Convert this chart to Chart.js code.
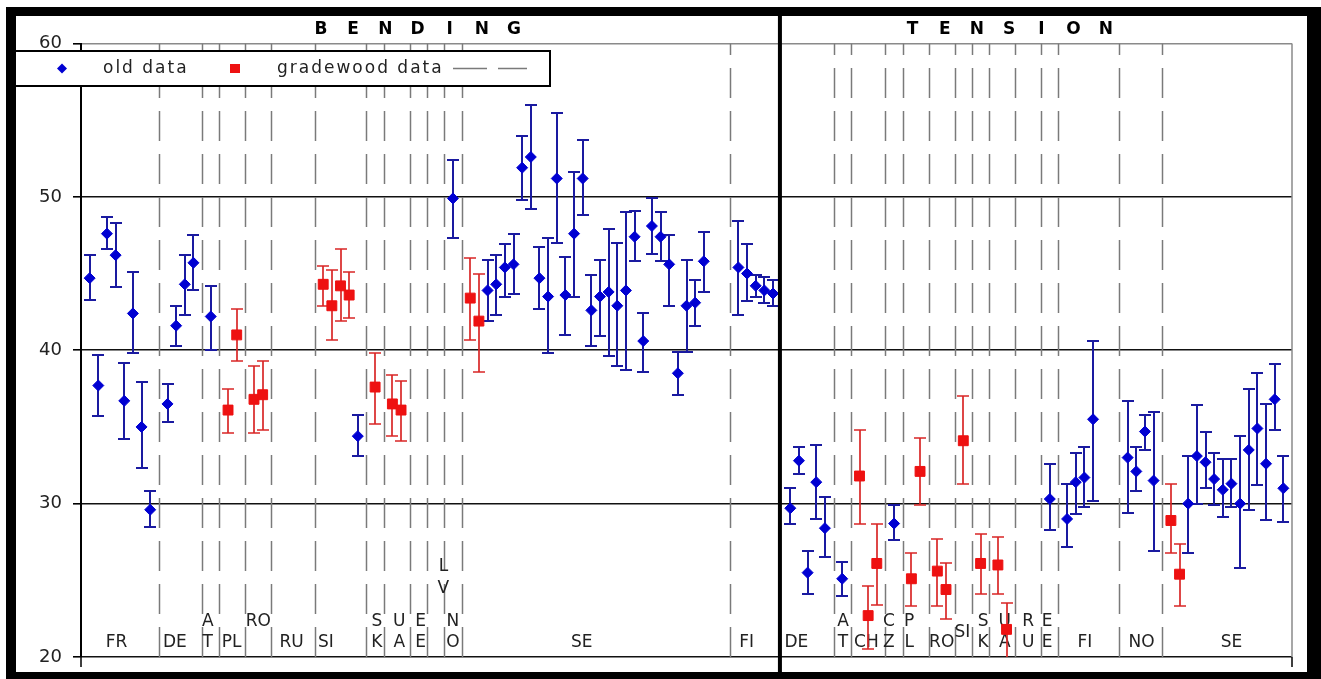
<!DOCTYPE html>
<html>
<head>
<meta charset="utf-8">
<title>Bending / Tension</title>
<script src="https://cdn.jsdelivr.net/npm/chart.js@4"></script>
<style>
    html, body { margin: 0; padding: 0; background: #fff; }
    #chart { display: block; }
</style>
</head>
<body>
<canvas id="chart" width="1321" height="679"></canvas>
<script>
// Data: x = category slot, y = strength with error bar limits
const oldX = [1, 2, 3, 4, 5, 6, 7, 8, 10, 11, 12, 13, 15, 32, 43,
    47, 48, 49, 50, 51, 52, 53, 54, 55, 56, 57, 58, 59, 60, 61, 62, 63, 64, 65, 66, 67, 68, 69, 70, 71, 72,
    76, 77, 78, 79, 80, 82, 83, 84, 85, 86, 88, 94, 112, 114, 115, 116, 117, 121, 122, 123, 124,
    128, 129, 130, 131, 132, 133, 134, 135, 136, 137, 138, 139];
const oldY = [44.7, 37.7, 47.6, 46.2, 36.7, 42.4, 35.0, 29.6, 36.5, 41.6, 44.3, 45.7, 42.2, 34.4, 49.9,
    43.9, 44.3, 45.4, 45.6, 51.9, 52.6, 44.7, 43.5, 51.2, 43.6, 47.6, 51.2, 42.6, 43.5, 43.8, 42.9, 43.9, 47.4, 40.6, 48.1, 47.4, 45.6, 38.5, 42.9, 43.1, 45.8,
    45.4, 45.0, 44.2, 43.9, 43.7, 29.7, 32.8, 25.5, 31.4, 28.4, 25.1, 28.7, 30.3, 29.0, 31.4, 31.7, 35.5, 33.0, 32.1, 34.7, 31.5,
    30.0, 33.1, 32.7, 31.6, 30.9, 31.3, 30.0, 33.5, 34.9, 32.6, 36.8, 31.0];
const oldHigh = [46.2, 39.7, 48.7, 48.3, 39.2, 45.1, 37.9, 30.8, 37.8, 42.9, 46.2, 47.5, 44.2, 35.8, 52.4,
    45.9, 46.2, 46.9, 47.6, 54.0, 56.0, 46.7, 47.3, 55.5, 46.1, 51.6, 53.7, 44.9, 45.9, 47.9, 47.0, 49.0, 49.1, 42.4, 49.9, 49.0, 47.5, 39.9, 45.9, 44.6, 47.7,
    48.4, 46.9, 44.9, 44.8, 44.6, 31.0, 33.7, 26.9, 33.8, 30.4, 26.2, 29.9, 32.6, 31.3, 33.3, 33.7, 40.6, 36.7, 33.7, 35.8, 36.0,
    33.1, 36.4, 34.7, 33.3, 32.9, 32.9, 34.4, 37.5, 38.5, 36.5, 39.1, 33.1];
const oldLow = [43.3, 35.7, 46.6, 44.1, 34.2, 39.8, 32.3, 28.5, 35.3, 40.3, 42.3, 43.9, 40.0, 33.1, 47.3,
    41.9, 42.3, 43.5, 43.7, 49.8, 49.2, 42.7, 39.8, 47.0, 41.0, 43.5, 48.8, 40.3, 40.9, 39.6, 39.0, 38.7, 45.8, 38.6, 46.3, 45.8, 42.9, 37.1, 39.9, 41.6, 43.8,
    42.3, 43.2, 43.5, 43.1, 42.9, 28.7, 31.9, 24.1, 29.0, 26.5, 24.0, 27.6, 28.3, 27.2, 29.3, 29.8, 30.2, 29.4, 30.8, 33.5, 26.9,
    26.8, 30.0, 31.0, 29.9, 29.1, 29.8, 25.8, 29.6, 31.2, 28.9, 34.8, 28.8];

const gradeX = [17, 18, 20, 21, 28, 29, 30, 31, 34, 36, 37, 45, 46, 90, 91, 92, 96, 97, 99, 100, 102, 104, 106, 107, 126, 127];
const gradeY = [36.1, 41.0, 36.8, 37.1, 44.3, 42.9, 44.2, 43.6, 37.6, 36.5, 36.1, 43.4, 41.9, 31.8, 22.7, 26.1, 25.1, 32.1, 25.6, 24.4, 34.1, 26.1, 26.0, 21.8, 28.9, 25.4];
const gradeHigh = [37.5, 42.7, 39.0, 39.3, 45.5, 45.2, 46.6, 45.1, 39.8, 38.4, 38.0, 46.0, 45.0, 34.8, 24.6, 28.7, 26.8, 34.3, 27.7, 26.1, 37.0, 28.0, 27.8, 23.5, 31.3, 27.4];
const gradeLow = [34.6, 39.3, 34.6, 34.8, 42.9, 40.7, 41.9, 42.1, 35.2, 34.4, 34.1, 40.7, 38.6, 28.7, 20.5, 23.4, 23.3, 29.9, 23.3, 22.5, 31.3, 24.1, 24.1, 19.9, 26.8, 23.3];

// Country separators (category boundaries) and the bending / tension divider
const bendingSeparators = [9, 14, 16, 19, 22, 27, 33, 35, 38, 40, 42, 44, 75];
const tensionSeparators = [87, 89, 93, 95, 98, 101, 103, 105, 108, 111, 113, 120, 125];
const sectionDivider = 80.8;

// Country codes along the bottom ('\n' = stacked letters)
const countryCodes = ['FR', 'DE', 'A\nT', 'PL', 'RO', 'RU', 'SI', 'S\nK', 'U\nA', 'E\nE', 'L\nV', 'N\nO', 'SE', 'FI',
    'DE', 'A\nT', 'CH', 'C\nZ', 'P\nL', 'RO', 'SI', 'S\nK', 'U\nA', 'R\nU', 'E\nE', 'FI', 'NO', 'SE'];
const countryAt = [4.1, 10.85, 14.65, 17.4, 20.5, 24.35, 28.3, 34.2, 36.8, 39.25, 41.9, 43.0, 57.9, 76.95,
    82.7, 88.1, 90.8, 93.4, 95.75, 99.5, 101.9, 104.3, 106.8, 109.5, 111.7, 116.05, 122.6, 133.0];

const sectionTitles = ['BENDING', 'TENSION'];
const sectionTitleAt = [38.9, 107.3];

const yTicks = [20, 30, 40, 50, 60];

// Styles
const BLUE = '#0000d2';
const BLUE_BAR = '#1a1aa0';
const RED = '#ee1111';
const RED_BAR = '#d92626';
const SEP_GRAY = '#7a7a7a';
const LABEL_FONT = '17px "DejaVu Sans"';

// Helper Functions
const toPoints = (xs, ys) => xs.map((x, i) => ({ x: x, y: ys[i] }));

const drawErrorBars = (ctx, xScale, yScale, xs, lows, highs, color, width) => {
    ctx.strokeStyle = color;
    ctx.lineWidth = width;
    xs.forEach((x, i) => {
        const px = Math.round(xScale.getPixelForValue(x));
        const top = Math.round(yScale.getPixelForValue(highs[i]));
        const bottom = Math.round(yScale.getPixelForValue(lows[i]));
        ctx.beginPath();
        ctx.moveTo(px, top);
        ctx.lineTo(px, bottom);
        ctx.moveTo(px - 6, top);
        ctx.lineTo(px + 6, top);
        ctx.moveTo(px - 6, bottom);
        ctx.lineTo(px + 6, bottom);
        ctx.stroke();
    });
};

const drawSpaced = (ctx, text, cx, y, step) => {
    const start = cx - (text.length - 1) * step / 2;
    [...text].forEach((ch, i) => ctx.fillText(ch, start + i * step, y));
};

// Plugin: separators, error bars, labels, legend and frame
const decorPlugin = {
    id: 'decor',
    beforeDatasetsDraw(chart) {
        const { ctx, chartArea: area, scales: { x: xScale, y: yScale } } = chart;
        ctx.save();
        ctx.beginPath();
        ctx.rect(area.left, area.top, area.right - area.left, area.bottom - area.top);
        ctx.clip();

        // dashed country separators, drawn from the bottom up
        ctx.strokeStyle = SEP_GRAY;
        ctx.lineWidth = 1.5;
        ctx.setLineDash([30, 13]);
        [...bendingSeparators, ...tensionSeparators].forEach(s => {
            const px = Math.round(xScale.getPixelForValue(s)) + 0.5;
            ctx.beginPath();
            ctx.moveTo(px, yScale.getPixelForValue(20));
            ctx.lineTo(px, yScale.getPixelForValue(60));
            ctx.stroke();
        });
        ctx.setLineDash([]);

        // country codes
        ctx.fillStyle = '#222';
        ctx.font = LABEL_FONT;
        ctx.textAlign = 'center';
        ctx.textBaseline = 'middle';
        countryCodes.forEach((code, i) => {
            const lines = code.split('\n');
            const px = xScale.getPixelForValue(countryAt[i]);
            let row = 0;
            if (code === 'RO' && i < 14) row = 1;
            if (code === 'SI' && i > 14) row = 0.5;
            if (code === 'L\nV') row = 2.55;
            lines.slice().reverse().forEach((line, k) => {
                ctx.fillText(line, px, area.bottom - 14 - (row + k) * 21.5);
            });
        });

        drawErrorBars(ctx, xScale, yScale, oldX, oldLow, oldHigh, BLUE_BAR, 2);
        drawErrorBars(ctx, xScale, yScale, gradeX, gradeLow, gradeHigh, RED_BAR, 1.7);
        ctx.restore();
    },
    afterDraw(chart) {
        const { ctx, chartArea: area, scales: { x: xScale } } = chart;
        const W = chart.width;
        const H = chart.height;
        ctx.save();

        // right border of the plot and end ticks of the x axis
        ctx.strokeStyle = '#8a8a8a';
        ctx.lineWidth = 1.5;
        ctx.beginPath();
        ctx.moveTo(area.right, area.top);
        ctx.lineTo(area.right, area.bottom);
        ctx.stroke();
        ctx.strokeStyle = '#000';
        ctx.beginPath();
        ctx.moveTo(area.left, area.bottom);
        ctx.lineTo(area.left, area.bottom + 10);
        ctx.moveTo(area.right, area.bottom);
        ctx.lineTo(area.right, area.bottom + 10);
        ctx.stroke();

        // titles
        ctx.fillStyle = '#000';
        ctx.font = 'bold 17px "DejaVu Sans"';
        ctx.textAlign = 'center';
        ctx.textBaseline = 'middle';
        sectionTitles.forEach((t, i) => drawSpaced(ctx, t, xScale.getPixelForValue(sectionTitleAt[i]), 30, 32.2));

        // bending / tension divider
        ctx.fillStyle = '#000';
        const dx = xScale.getPixelForValue(sectionDivider);
        ctx.fillRect(dx - 2, 14, 4, H - 20);

        // legend box
        ctx.fillStyle = '#fff';
        ctx.fillRect(15, 51, 535, 35);
        ctx.strokeStyle = '#000';
        ctx.lineWidth = 2;
        ctx.strokeRect(15, 51, 535, 35);

        const ly = 68.5;
        ctx.fillStyle = BLUE;
        ctx.beginPath();
        ctx.moveTo(62, ly - 5);
        ctx.lineTo(67, ly);
        ctx.lineTo(62, ly + 5);
        ctx.lineTo(57, ly);
        ctx.closePath();
        ctx.fill();
        ctx.fillStyle = RED;
        ctx.fillRect(230, ly - 4.5, 10, 9);

        ctx.fillStyle = '#222';
        ctx.font = LABEL_FONT;
        ctx.textAlign = 'left';
        ctx.letterSpacing = '2px';
        ctx.fillText('old data', 103, ly);
        ctx.fillText('gradewood data', 277, ly);
        ctx.letterSpacing = '0px';

        ctx.strokeStyle = SEP_GRAY;
        ctx.lineWidth = 1.5;
        ctx.setLineDash([34, 11]);
        ctx.beginPath();
        ctx.moveTo(453, ly);
        ctx.lineTo(527, ly);
        ctx.stroke();
        ctx.setLineDash([]);

        // black frame
        ctx.fillStyle = '#000';
        ctx.fillRect(6, 7, W - 6, 9);
        ctx.fillRect(6, 7, 10, H - 7);
        ctx.fillRect(W - 14, 7, 14, H - 7);
        ctx.fillRect(6, H - 7, W - 6, 7);
        ctx.restore();
    }
};

// Chart
const ctx = document.getElementById('chart').getContext('2d');
const chart = new Chart(ctx, {
    type: 'scatter',
    data: {
        datasets: [{
            label: 'old data',
            data: toPoints(oldX, oldY),
            pointStyle: 'rectRot',
            pointRadius: 5.5,
            pointHoverRadius: 5.5,
            backgroundColor: BLUE,
            borderColor: BLUE,
            borderWidth: 1
        }, {
            label: 'gradewood data',
            data: toPoints(gradeX, gradeY),
            pointStyle: 'rect',
            pointRadius: 7,
            pointHoverRadius: 7,
            backgroundColor: RED,
            borderColor: RED,
            borderWidth: 1
        }]
    },
    options: {
        responsive: false,
        devicePixelRatio: 1,
        animation: false,
        events: [],
        layout: {
            padding: { top: 43.5, right: 29, bottom: 22, left: 0 }
        },
        plugins: {
            legend: { display: false },
            tooltip: { enabled: false }
        },
        scales: {
            x: {
                type: 'linear',
                min: 0,
                max: 140,
                display: false
            },
            y: {
                min: 20,
                max: 60,
                afterFit: (scale) => { scale.width = 81; },
                afterBuildTicks: (scale) => { scale.ticks = yTicks.map(v => ({ value: v })); },
                border: { color: '#000', width: 2 },
                grid: {
                    color: (c) => c.tick && c.tick.value === 60 ? '#8a8a8a' : '#111',
                    lineWidth: 1.6,
                    tickColor: '#000',
                    tickLength: 8
                },
                ticks: {
                    color: '#222',
                    padding: 11,
                    font: { family: 'DejaVu Sans', size: 18 }
                }
            }
        }
    },
    plugins: [decorPlugin]
});
</script>
</body>
</html>
